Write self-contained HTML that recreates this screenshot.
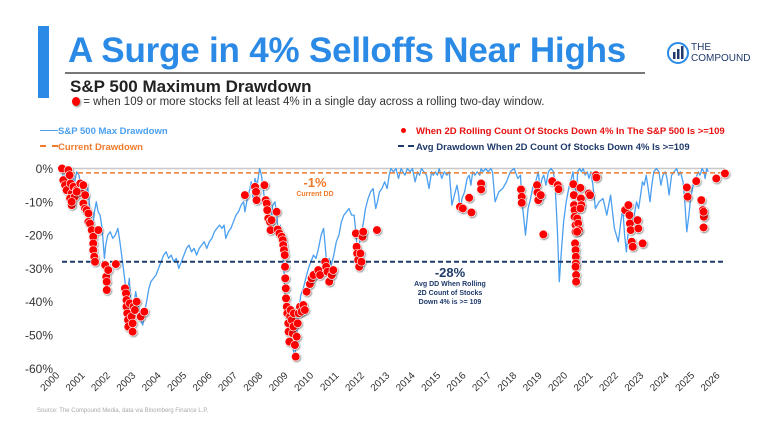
<!DOCTYPE html>
<html><head><meta charset="utf-8">
<style>
html,body{margin:0;padding:0;background:#fff;}
body{width:774px;height:433px;position:relative;overflow:hidden;font-family:"Liberation Sans",sans-serif;}
.abs{position:absolute;}
</style></head>
<body>
<div class="abs" style="left:38px;top:26px;width:11px;height:72px;background:#2a8ae6"></div>
<div class="abs" style="left:68px;top:31px;font-size:35px;font-weight:bold;color:#2a8ae6;letter-spacing:-0.2px;white-space:nowrap">A Surge in 4% Selloffs Near Highs</div>
<div class="abs" style="left:65px;top:72px;width:580px;height:2px;background:#777"></div>
<div class="abs" style="left:70px;top:77px;font-size:17px;font-weight:bold;color:#222;white-space:nowrap">S&amp;P 500 Maximum Drawdown</div>
<div class="abs" style="left:72px;top:96px;font-size:11.5px;color:#333;white-space:nowrap"><span style="display:inline-block;width:8px;height:9px;border-radius:50%;background:#f00;box-shadow:1px 1px 2px #888;vertical-align:-1px"></span> = when 109 or more stocks fell at least 4% in a single day across a rolling two-day window.</div>
<div class="abs" style="left:666px;top:40px;width:100px;height:30px">
<svg width="24" height="26" viewBox="0 0 24 26" style="position:absolute;left:0;top:0"><circle cx="12" cy="13" r="10" fill="none" stroke="#2a8ae6" stroke-width="2"/><rect x="7" y="12" width="2.5" height="7" fill="#1f3a6b"/><rect x="11" y="9" width="2.5" height="10" fill="#1f3a6b"/><rect x="15" y="6" width="2.5" height="13" fill="#1f3a6b"/></svg>
<div style="position:absolute;left:25px;top:2px;font-size:10px;line-height:11px;color:#1f3a6b">THE<br>COMPOUND</div></div>

<div class="abs" style="left:40px;top:126px;font-size:9.5px;font-weight:bold;color:#4a9ff0;white-space:nowrap"><span style="display:inline-block;width:18px;height:1.5px;background:#4a9ff0;vertical-align:3px"></span>S&amp;P 500 Max Drawdown</div>
<div class="abs" style="left:40px;top:142px;font-size:9.5px;font-weight:bold;color:#f07a2a;white-space:nowrap"><span style="display:inline-block;width:18px;border-top:2px dashed #f07a2a;vertical-align:3px"></span>Current Drawdown</div>
<div class="abs" style="left:401px;top:126px;font-size:9.5px;font-weight:bold;color:#e81010;white-space:nowrap"><span style="display:inline-block;width:5px;height:5px;border-radius:50%;background:#f00;vertical-align:1px;margin-right:10px"></span>When 2D Rolling Count Of Stocks Down 4% In The S&amp;P 500 Is &gt;=109</div>
<div class="abs" style="left:398px;top:142px;font-size:9.5px;font-weight:bold;color:#1f3a6b;white-space:nowrap"><span style="display:inline-block;width:16px;border-top:2px dashed #1f3a6b;vertical-align:3px;margin-right:2px"></span>Avg Drawdown When 2D Count Of Stocks Down 4% Is &gt;=109</div>

<svg id="chart" class="abs" style="left:0;top:0" width="774" height="433"></svg>
<div class="abs" style="left:37px;top:408px;font-size:6px;color:#aaa;white-space:nowrap">Source: The Compound Media, data via Bloomberg Finance L.P.</div>

<script>
const yTicks=[0,-10,-20,-30,-40,-50,-60];
const years=[2000,2001,2002,2003,2004,2005,2006,2007,2008,2009,2010,2011,2012,2013,2014,2015,2016,2017,2018,2019,2020,2021,2022,2023,2024,2025,2026];
const currentDD=-1.3;
const avgDD=-28;
const lineT=[2000,2000.08,2000.15,2000.2,2000.28,2000.35,2000.42,2000.5,2000.58,2000.67,2000.72,2000.8,2000.88,2000.95,2001.02,2001.1,2001.2,2001.28,2001.35,2001.42,2001.5,2001.58,2001.67,2001.72,2001.8,2001.9,2002,2002.1,2002.2,2002.28,2002.38,2002.48,2002.55,2002.6,2002.65,2002.72,2002.77,2002.83,2002.9,2002.97,2003.05,2003.12,2003.18,2003.25,2003.33,2003.42,2003.5,2003.6,2003.7,2003.8,2003.9,2004,2004.1,2004.2,2004.3,2004.4,2004.5,2004.6,2004.7,2004.8,2004.9,2005,2005.1,2005.2,2005.3,2005.4,2005.5,2005.6,2005.7,2005.8,2005.9,2006,2006.1,2006.2,2006.3,2006.38,2006.45,2006.55,2006.65,2006.75,2006.85,2006.95,2007.05,2007.15,2007.2,2007.3,2007.4,2007.45,2007.52,2007.6,2007.68,2007.78,2007.85,2007.92,2008,2008.1,2008.2,2008.3,2008.38,2008.45,2008.52,2008.6,2008.65,2008.72,2008.78,2008.83,2008.88,2008.93,2009,2009.07,2009.13,2009.19,2009.25,2009.32,2009.4,2009.5,2009.6,2009.7,2009.8,2009.9,2010,2010.1,2010.2,2010.3,2010.38,2010.45,2010.52,2010.6,2010.7,2010.8,2010.9,2011,2011.1,2011.2,2011.3,2011.4,2011.5,2011.58,2011.63,2011.7,2011.78,2011.85,2011.95,2012.05,2012.15,2012.25,2012.35,2012.42,2012.5,2012.6,2012.7,2012.8,2012.88,2012.95,2013.05,2013.15,2013.25,2013.35,2013.42,2013.5,2013.6,2013.7,2013.8,2013.9,2014,2014.08,2014.15,2014.25,2014.35,2014.45,2014.55,2014.62,2014.7,2014.78,2014.85,2014.95,2015.05,2015.15,2015.25,2015.35,2015.45,2015.55,2015.62,2015.68,2015.75,2015.85,2015.95,2016.03,2016.1,2016.17,2016.25,2016.35,2016.45,2016.5,2016.58,2016.68,2016.78,2016.88,2016.95,2017.05,2017.2,2017.35,2017.5,2017.65,2017.8,2017.95,2018.05,2018.1,2018.18,2018.25,2018.35,2018.45,2018.55,2018.65,2018.75,2018.82,2018.9,2018.97,2019.05,2019.15,2019.25,2019.35,2019.42,2019.5,2019.58,2019.65,2019.75,2019.85,2019.95,2020.05,2020.12,2020.17,2020.21,2020.25,2020.3,2020.38,2020.45,2020.52,2020.6,2020.68,2020.75,2020.82,2020.9,2021,2021.15,2021.3,2021.45,2021.6,2021.75,2021.9,2022,2022.08,2022.15,2022.22,2022.28,2022.35,2022.42,2022.48,2022.55,2022.62,2022.7,2022.78,2022.85,2022.92,2023,2023.08,2023.15,2023.22,2023.3,2023.4,2023.5,2023.58,2023.66,2023.75,2023.82,2023.9,2024,2024.1,2024.2,2024.28,2024.35,2024.45,2024.52,2024.6,2024.68,2024.75,2024.85,2024.95,2025.05,2025.12,2025.2,2025.27,2025.32,2025.38,2025.45,2025.52,2025.6,2025.68,2025.75,2025.82,2025.9,2026.05];
const lineV=[0,-4,-1,-5,-2,-6,-3,-4,-1,-2,-5,-8,-10,-8,-6,-12,-18,-13,-10,-13,-14,-18,-27,-23,-20,-19,-21,-20,-18,-22,-28,-34,-40,-36,-33,-42,-48,-41,-37,-40,-43,-46,-47,-43,-40,-36,-34,-33,-32,-30,-28,-26,-25,-27,-26,-28,-27,-30,-28,-26,-24,-23,-25,-24,-26,-24,-23,-22,-24,-22,-21,-19,-18,-17,-18,-17,-21,-19,-18,-16,-14,-13,-11,-10,-13,-9,-6,-4,-9,-3,-5,0,-2,-6,-11,-13,-18,-11,-10,-13,-20,-17,-22,-27,-38,-45,-42,-48,-44,-50,-56,-55,-48,-43,-38,-36,-33,-30,-28,-26,-27,-24,-20,-18,-25,-31,-27,-29,-26,-22,-20,-16,-14,-13,-12,-14,-14,-20,-25,-23,-19,-17,-12,-9,-7,-6,-12,-10,-7,-6,-4,-6,-2,0,-1,0,-3,0,-1,-2,0,-1,0,-4,-1,-2,0,-1,-2,-6,-1,-2,-1,-2,0,-3,-1,-2,-1,-11,-8,-5,-8,-13,-9,-7,-3,-2,-5,-1,-2,-1,-2,0,-1,0,-1,0,-1,-10,-7,-6,-4,-1,0,-3,-2,-9,-15,-20,-12,-9,-5,-4,-1,-6,-3,-2,-5,-1,0,-1,-6,-18,-34,-26,-16,-10,-6,-3,-1,-6,-4,-9,-1,0,-1,0,-2,-1,-3,-1,-5,-12,-10,-9,-14,-8,-18,-22,-16,-12,-20,-25,-20,-16,-18,-15,-13,-10,-12,-8,-4,-5,-2,-6,-10,-5,-1,0,-1,-5,-2,-1,-3,-8,-2,-1,0,-2,-1,-4,-10,-19,-14,-9,-5,-3,-1,-2,0,-1,-3,0,-1];
// selloff dots: [year, drawdown %]
const dotPoints=[[2000,0],[2000.05,-3.5],[2000.12,-5],[2000.18,-6.5],[2000.25,-0.5],[2000.3,-2],[2000.34,-4.5],[2000.38,-7.5],[2000.32,-9],[2000.38,-11],[2000.45,-5.5],[2000.5,-8.5],[2000.58,-6.5],[2000.72,-4.5],[2000.78,-7.5],[2000.38,-10],[2000.58,-7],
[2000.84,-5],[2000.91,-8],[2000.84,-10.5],[2000.91,-12],[2000.97,-12.5],[2001.04,-13.5],[2001.04,-16],[2001.1,-16.5],[2001.17,-18.5],[2001.23,-20.5],[2001.23,-22.5],[2001.23,-24.5],[2001.27,-26.5],[2001.3,-28],[2001.43,-18.5],
[2001.7,-29],[2001.74,-32.5],[2001.76,-34],[2001.76,-36.5],[2001.82,-30.5],[2002.12,-28.7],
[2002.48,-36],[2002.52,-37.5],[2002.54,-39.5],[2002.54,-41.5],[2002.57,-43.5],[2002.6,-45.5],[2002.61,-47.5],[2002.67,-40.5],[2002.74,-44.5],[2002.78,-46.5],[2002.78,-49],[2002.81,-41.5],[2002.87,-42.5],[2002.94,-40],[2003.1,-44.5],[2003.24,-43],
[2007.2,-8],[2007.6,-5.5],[2007.64,-7],[2007.66,-9.5],[2007.97,-5],
[2008.02,-9.5],[2008.06,-10.5],[2008.08,-12.5],[2008.12,-15],[2008.19,-16],[2008.25,-15.5],[2008.21,-18.5],[2008.45,-13],[2008.49,-18.3],[2008.56,-19.5],[2008.65,-20.5],[2008.69,-21.5],[2008.71,-23],[2008.74,-24.5],[2008.77,-26],[2008.78,-29.5],[2008.79,-33],[2008.81,-36],[2008.82,-39],[2008.85,-41.5],[2008.87,-43.5],[2008.91,-46.5],[2008.92,-49],[2008.95,-52],[2008.98,-44.5],[2009.0,-42.5],[2009.04,-45.5],[2009.08,-49.5],[2009.11,-47.5],[2009.13,-43.5],[2009.17,-53],[2009.2,-56.5],[2009.24,-50.5],[2009.28,-46.5],[2009.32,-43.5],[2009.37,-41.5],[2009.43,-43],[2009.5,-41],[2009.56,-42.5],
[2009.63,-37],[2009.76,-34.7],[2009.83,-33],[2009.9,-32],[2010.09,-30.5],[2010.16,-32],[2010.36,-28],[2010.4,-29.5],[2010.45,-31],[2010.52,-34],[2010.62,-32],[2010.68,-30.5],
[2011.57,-19.5],[2011.6,-23.5],[2011.62,-25.5],[2011.66,-27.5],[2011.7,-29.5],[2011.75,-25.5],[2011.79,-28],[2011.83,-20.5],[2011.86,-19],[2012.4,-18.5],
[2015.67,-11.5],[2015.78,-12],[2016.03,-8.8],[2016.12,-13.2],[2016.5,-4.5],[2016.5,-6.3],
[2018.07,-6.3],[2018.1,-8.5],[2018.1,-10.3],[2018.7,-5],[2018.72,-7.2],[2018.75,-9.5],[2018.85,-8],[2018.95,-19.8],[2019.3,-3.8],[2019.52,-5],[2019.55,-6.2],
[2020.13,-4.7],[2020.15,-8],[2020.16,-11],[2020.18,-12.5],[2020.18,-14.5],[2020.22,-17],[2020.22,-19],[2020.2,-22.5],[2020.22,-24.5],[2020.23,-26.5],[2020.23,-28.5],[2020.22,-29.5],[2020.24,-32],[2020.24,-34],[2020.28,-15],[2020.32,-16.5],[2020.35,-18.5],[2020.28,-19],[2020.41,-5.8],[2020.43,-9],[2020.45,-11],[2020.41,-12],[2020.74,-7.5],[2020.79,-8],[2021.02,-2],[2021.04,-2.7],
[2022.17,-12.5],[2022.3,-11],[2022.34,-14],[2022.36,-16.5],[2022.39,-18.5],[2022.43,-22],[2022.47,-23.5],[2022.66,-15.5],[2022.69,-18],[2022.86,-22.5],
[2024.6,-5.7],[2024.63,-8.5],[2024.97,-3.8],[2025.17,-9.5],[2025.23,-12.5],[2025.27,-14.5],[2025.26,-13],[2025.26,-17.7],[2025.76,-3],[2026.1,-1.5]];

const NS='http://www.w3.org/2000/svg';
const svg=document.getElementById('chart');
const X0=62,PXY=25.4,Y0=168.5,PXV=3.33;
const xs=t=>X0+(t-2000)*PXY;
const ys=v=>Y0-v*PXV;
const xEnd=xs(2026.1);
function mk(tag,attrs){const e=document.createElementNS(NS,tag);for(const k in attrs)e.setAttribute(k,attrs[k]);svg.appendChild(e);return e;}

const defs=mk('defs',{});
defs.innerHTML='<filter id="sh" x="-50%" y="-50%" width="200%" height="200%"><feDropShadow dx="0.8" dy="1" stdDeviation="0.8" flood-color="#000" flood-opacity="0.45"/></filter>';

const zl=mk('line',{x1:X0,x2:xEnd,y1:ys(0),y2:ys(0),stroke:'#c8c8c8','stroke-width':1.5});



yTicks.forEach(v=>{
  const t=mk('text',{x:53,y:ys(v)+4.5,'text-anchor':'end','font-size':12,fill:'#333','font-family':'Liberation Sans, sans-serif'});
  t.textContent=v+'%';
  
  
});
years.forEach(y=>{
  const x=xs(y)-2;
  const t=mk('text',{x:x,y:376,'text-anchor':'end','font-size':10,fill:'#333','font-family':'Liberation Sans, sans-serif',transform:'rotate(-45 '+x+' 376)'});
  t.textContent=y;
  
  
});

let d='';
lineT.forEach((t,i)=>{d+=(i?'L':'M')+xs(t).toFixed(1)+' '+ys(lineV[i]).toFixed(1);});
const ln=mk('path',{d:d,fill:'none',stroke:'#4a9ff0','stroke-width':1.3,'stroke-linejoin':'round'});



const cl=mk('line',{x1:X0,x2:xEnd,y1:ys(currentDD),y2:ys(currentDD),stroke:'#f07a2a','stroke-width':1.5,'stroke-dasharray':'5,3'});


const al=mk('line',{x1:X0,x2:xEnd,y1:ys(avgDD),y2:ys(avgDD),stroke:'#1f3a6b','stroke-width':2,'stroke-dasharray':'5,3'});



dotPoints.forEach(p=>{
  const c=mk('circle',{cx:xs(p[0]),cy:ys(p[1]),r:4.3,fill:'#f00',stroke:'#fff','stroke-width':0.6,filter:'url(#sh)'});
  
  
});

function lbl(x,y,s,txt,col,name){const t=mk('text',{x:x,y:y,'text-anchor':'middle','font-size':s,'font-weight':'bold',fill:col,'font-family':'Liberation Sans, sans-serif'});t.textContent=txt;

}
lbl(315,187,13,'-1%','#f07a2a','current-dd-value');
lbl(315,196,7,'Current DD','#f07a2a','current-dd-label');
lbl(450,277,13,'-28%','#1f3a6b','avg-dd-value');
lbl(450,286,7,'Avg DD When Rolling','#1f3a6b','avg-dd-label');
lbl(450,295,7,'2D Count of Stocks','#1f3a6b','avg-dd-label');
lbl(450,304,7,'Down 4% is >= 109','#1f3a6b','avg-dd-label');
</script>
</body></html>
